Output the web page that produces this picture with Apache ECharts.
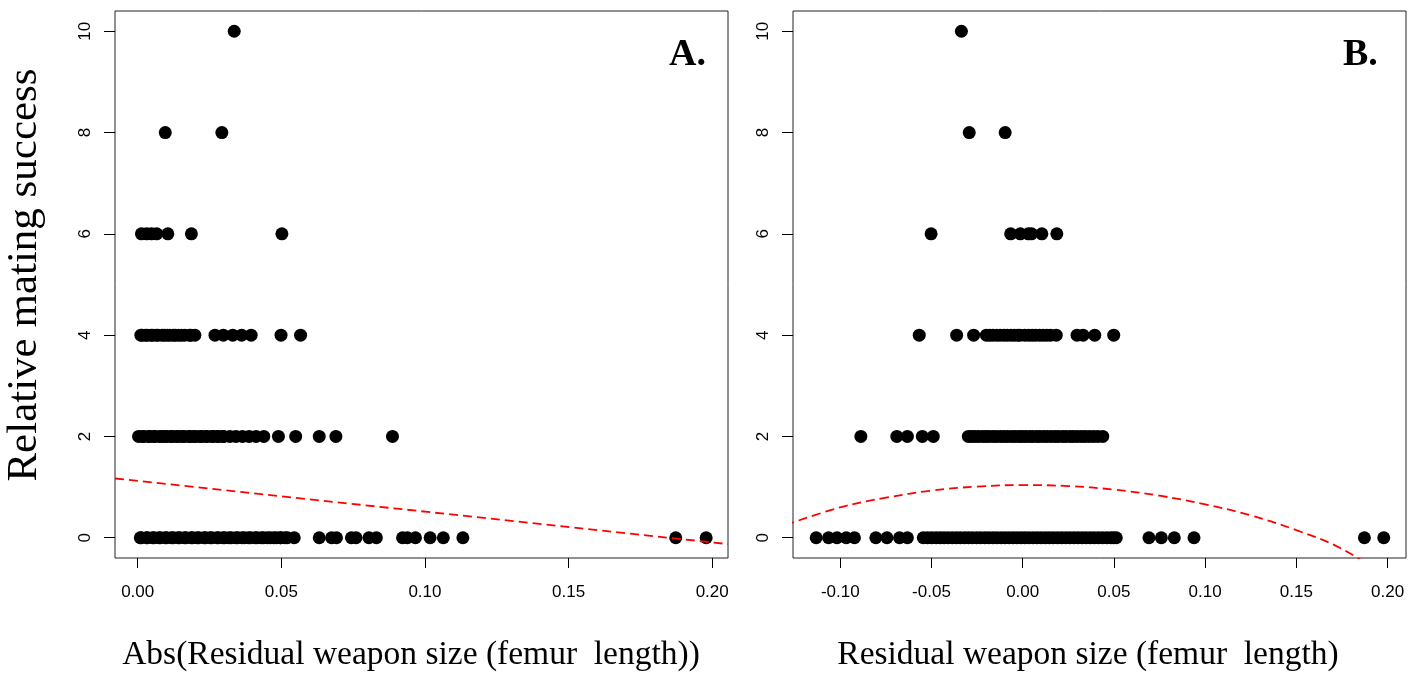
<!DOCTYPE html>
<html>
<head>
<meta charset="utf-8">
<script src="https://cdn.jsdelivr.net/npm/echarts@6/dist/echarts.min.js"></script>
<style>
  html, body { margin: 0; padding: 0; background: #fff; }
  #chart { width: 1420px; height: 677px; }
</style>
</head>
<body>
<div id="chart"></div>
<script>
// y levels (relative mating success)
const levels = [0, 2, 4, 6, 8, 10];

// panel A: abs(residual weapon size) for each level
const absAt0 = [0.0009, 0.0012, 0.0031, 0.0034, 0.0052, 0.0057, 0.0074, 0.0079, 0.0096, 0.0101, 0.0118, 0.0124,
  0.0141, 0.0146, 0.0163, 0.0168, 0.0186, 0.0191, 0.0207, 0.0213, 0.0231, 0.0236, 0.0252, 0.0258, 0.0276, 0.0281,
  0.0297, 0.0303, 0.0318, 0.0326, 0.0342, 0.0348, 0.0363, 0.0371, 0.0386, 0.0393, 0.0409, 0.0416, 0.0431, 0.0438,
  0.0452, 0.0461, 0.0474, 0.0483, 0.0497, 0.0498, 0.0513, 0.0521, 0.0545, 0.0632, 0.0675, 0.0692, 0.0744, 0.0760,
  0.0805, 0.0831, 0.0922, 0.0939, 0.0967, 0.1018, 0.1064, 0.1132, 0.1873, 0.1979];
const absAt2 = [0.0003, 0.0016, 0.0021, 0.0037, 0.0042, 0.0055, 0.0061, 0.0076, 0.0083, 0.0094, 0.0102, 0.0115,
  0.0121, 0.0134, 0.0143, 0.0156, 0.0162, 0.0177, 0.0184, 0.0195, 0.0203, 0.0218, 0.0221, 0.0236, 0.0243, 0.0259,
  0.0262, 0.0277, 0.0281, 0.0298, 0.0298, 0.0321, 0.0342, 0.0365, 0.0388, 0.0412, 0.0439, 0.0490, 0.0550, 0.0632,
  0.0690, 0.0887];
const absAt4 = [0.0011, 0.0015, 0.0027, 0.0033, 0.0046, 0.0052, 0.0064, 0.0071, 0.0085, 0.0093, 0.0103, 0.0112,
  0.0124, 0.0131, 0.0142, 0.0152, 0.0163, 0.0181, 0.0184, 0.0199, 0.0269, 0.0298, 0.0331, 0.0362, 0.0395, 0.0499,
  0.0567];
const absAt6 = [0.0013, 0.0031, 0.0048, 0.0066, 0.0105, 0.0187, 0.0502];
const absAt8 = [0.0096, 0.0293];
const absAt10 = [0.0336];

// panel B: residual weapon size for each level
const residAt0 = [-0.1132, -0.1064, -0.1018, -0.0967, -0.0922, -0.0805, -0.0744, -0.0675, -0.0632, -0.0545, -0.0521,
  -0.0498, -0.0474, -0.0452, -0.0431, -0.0409, -0.0386, -0.0363, -0.0342, -0.0318, -0.0297, -0.0276, -0.0252, -0.0231,
  -0.0207, -0.0186, -0.0163, -0.0141, -0.0118, -0.0096, -0.0074, -0.0052, -0.0031, -0.0009, 0.0012, 0.0034, 0.0057,
  0.0079, 0.0101, 0.0124, 0.0146, 0.0168, 0.0191, 0.0213, 0.0236, 0.0258, 0.0281, 0.0303, 0.0326, 0.0348, 0.0371,
  0.0393, 0.0416, 0.0438, 0.0461, 0.0483, 0.0497, 0.0513, 0.0692, 0.0760, 0.0831, 0.0939, 0.1873, 0.1979];
const residAt2 = [-0.0887, -0.0690, -0.0632, -0.0550, -0.0490, -0.0298, -0.0281, -0.0262, -0.0243, -0.0221, -0.0203,
  -0.0184, -0.0162, -0.0143, -0.0121, -0.0102, -0.0083, -0.0061, -0.0042, -0.0021, -0.0003, 0.0016, 0.0037, 0.0055,
  0.0076, 0.0094, 0.0115, 0.0134, 0.0156, 0.0177, 0.0195, 0.0218, 0.0236, 0.0259, 0.0277, 0.0298, 0.0321, 0.0342,
  0.0365, 0.0388, 0.0412, 0.0439];
const residAt4 = [-0.0567, -0.0362, -0.0269, -0.0199, -0.0181, -0.0163, -0.0142, -0.0124, -0.0103, -0.0085, -0.0064,
  -0.0046, -0.0027, -0.0015, 0.0011, 0.0033, 0.0052, 0.0071, 0.0093, 0.0112, 0.0131, 0.0152, 0.0184, 0.0298, 0.0331,
  0.0395, 0.0499];
const residAt6 = [-0.0502, -0.0066, -0.0013, 0.0031, 0.0048, 0.0105, 0.0187];
const residAt8 = [-0.0293, -0.0096];
const residAt10 = [-0.0336];

// fitted lines
const fitAX = [-0.0079, 0.2055];
const fitAY = [1.17, -0.125];
const fitBX = [-0.13, -0.10, -0.075, -0.05, -0.025, 0.0, 0.025, 0.05, 0.075, 0.10, 0.125, 0.15, 0.175, 0.20];
const fitBY = [0.25, 0.60, 0.79, 0.93, 1.01, 1.04, 1.02, 0.95, 0.83, 0.66, 0.44, 0.15, -0.22, -0.8];

// tick values
const ticksA = [0, 0.05, 0.10, 0.15, 0.20];
const ticksB = [-0.10, -0.05, 0, 0.05, 0.10, 0.15, 0.20];
const ticksY = [0, 2, 4, 6, 8, 10];

const absLists = [absAt0, absAt2, absAt4, absAt6, absAt8, absAt10];
const residLists = [residAt0, residAt2, residAt4, residAt6, residAt8, residAt10];

function toPoints(lists) {
  let pts = [];
  lists.forEach(function (xs, i) {
    xs.forEach(function (x) { pts.push([x, levels[i]]); });
  });
  return pts;
}
function zip(xs, ys) {
  return xs.map(function (x, i) { return [x, ys[i]]; });
}

const chart = echarts.init(document.getElementById('chart'));

function xAxisOf(gridIndex, min, max, ticks) {
  return {
    type: 'value', gridIndex: gridIndex, min: min, max: max,
    axisLine: { show: false, onZero: false },
    splitLine: { show: false },
    axisTick: { show: true, inside: false, length: 10, customValues: ticks, lineStyle: { color: '#000' } },
    axisLabel: {
      customValues: ticks, margin: 26, color: '#000', fontSize: 17, fontFamily: 'Liberation Sans',
      formatter: function (v) { return v.toFixed(2); }
    }
  };
}
function yAxisOf(gridIndex) {
  return {
    type: 'value', gridIndex: gridIndex, min: -0.4, max: 10.4,
    axisLine: { show: false, onZero: false },
    splitLine: { show: false },
    axisTick: { show: true, inside: false, length: 11, customValues: ticksY, lineStyle: { color: '#000' } },
    axisLabel: {
      customValues: ticksY, rotate: 90, margin: 21, color: '#000', fontSize: 17, fontFamily: 'Liberation Sans'
    }
  };
}

const redDash = { color: '#ff0000', width: 1.8, type: [9, 5] };
const dot = { color: '#000', opacity: 1 };

let option = {
  animation: false,
  backgroundColor: '#fff',
  grid: [
    { left: 115, top: 11, width: 613, height: 547, show: true, borderColor: '#222', borderWidth: 1 },
    { left: 793, top: 11, width: 613, height: 547, show: true, borderColor: '#222', borderWidth: 1 }
  ],
  xAxis: [
    xAxisOf(0, -0.0079, 0.2055, ticksA),
    xAxisOf(1, -0.1259, 0.2101, ticksB)
  ],
  yAxis: [yAxisOf(0), yAxisOf(1)],
  series: [
    {
      type: 'scatter', xAxisIndex: 0, yAxisIndex: 0, symbolSize: 13,
      itemStyle: dot, data: toPoints(absLists)
    },
    {
      type: 'line', xAxisIndex: 0, yAxisIndex: 0, showSymbol: false, clip: true,
      lineStyle: redDash, data: zip(fitAX, fitAY), z: 3
    },
    {
      type: 'scatter', xAxisIndex: 1, yAxisIndex: 1, symbolSize: 13,
      itemStyle: dot, data: toPoints(residLists)
    },
    {
      type: 'line', xAxisIndex: 1, yAxisIndex: 1, showSymbol: false, clip: true, smooth: 0.4,
      lineStyle: redDash, data: zip(fitBX, fitBY), z: 3
    }
  ],
  graphic: [
    {
      type: 'text', left: 669, top: 36,
      style: { text: 'A.', font: 'bold 38px "Liberation Serif"', fill: '#000' }
    },
    {
      type: 'text', left: 1343, top: 36,
      style: { text: 'B.', font: 'bold 38px "Liberation Serif"', fill: '#000' }
    },
    {
      type: 'text', x: 25, y: 275, rotation: Math.PI / 2,
      style: { text: 'Relative mating success', font: '43px "Liberation Serif"', fill: '#000', align: 'center', verticalAlign: 'middle' }
    },
    {
      type: 'text', x: 411, y: 655,
      style: { text: 'Abs(Residual weapon size (femur  length))', font: '33.5px "Liberation Serif"', fill: '#000', align: 'center', verticalAlign: 'middle' }
    },
    {
      type: 'text', x: 1088, y: 655,
      style: { text: 'Residual weapon size (femur  length)', font: '33.5px "Liberation Serif"', fill: '#000', align: 'center', verticalAlign: 'middle' }
    }
  ]
};

chart.setOption(option);
</script>
</body>
</html>
